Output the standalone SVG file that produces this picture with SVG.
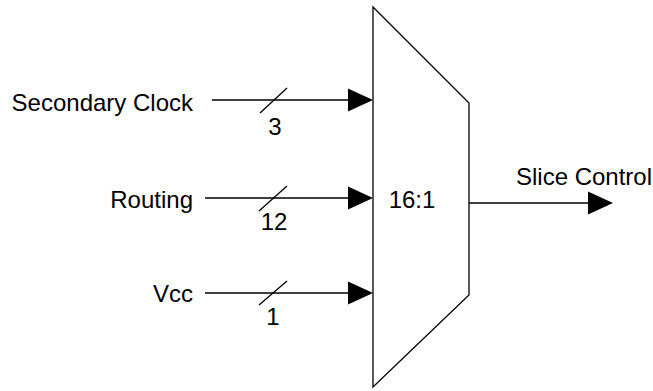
<svg xmlns="http://www.w3.org/2000/svg" width="653" height="391" viewBox="0 0 653 391">
<style>
text{font-family:"Liberation Sans",Arial,sans-serif;font-size:24px;fill:#000}
.w{stroke:#000;stroke-width:1.3;fill:none}
.ah{fill:#000;stroke:none}
</style>
<rect width="653" height="391" fill="#fff"/>
<g id="mux">
<polygon class="w" points="373,7 469,103 469,295 373,387" fill="#fff"/>
<text x="412" y="208" text-anchor="middle">16:1</text>
</g>
<g id="in-secondary-clock">
<text x="193" y="111" text-anchor="end">Secondary Clock</text>
</g>
<g id="in-routing">
<text x="193" y="208" text-anchor="end">Routing</text>
</g>
<g id="in-vcc">
<text x="193" y="302" text-anchor="end">Vcc</text>
</g>
<g id="out-slice-control">
<text x="584" y="185" text-anchor="middle">Slice Control</text>
</g>
<g id="connectors">
<line class="w" x1="212" y1="100" x2="350" y2="100"/>
<polygon class="ah" points="348,88.5 373,100 348,111.5"/>
<line class="w" x1="260" y1="113" x2="287" y2="88"/>
<text x="275" y="135" text-anchor="middle">3</text>
<line class="w" x1="205" y1="198" x2="350" y2="198"/>
<polygon class="ah" points="348,186.5 373,198 348,209.5"/>
<line class="w" x1="259" y1="211" x2="287" y2="186"/>
<text x="274" y="230" text-anchor="middle">12</text>
<line class="w" x1="205" y1="293" x2="350" y2="293"/>
<polygon class="ah" points="348,281.5 373,293 348,304.5"/>
<line class="w" x1="259" y1="305" x2="287" y2="281"/>
<text x="273" y="325" text-anchor="middle">1</text>
<line class="w" x1="469" y1="203" x2="590" y2="203"/>
<polygon class="ah" points="588,191.5 613,203 588,214.5"/>
</g>
</svg>
